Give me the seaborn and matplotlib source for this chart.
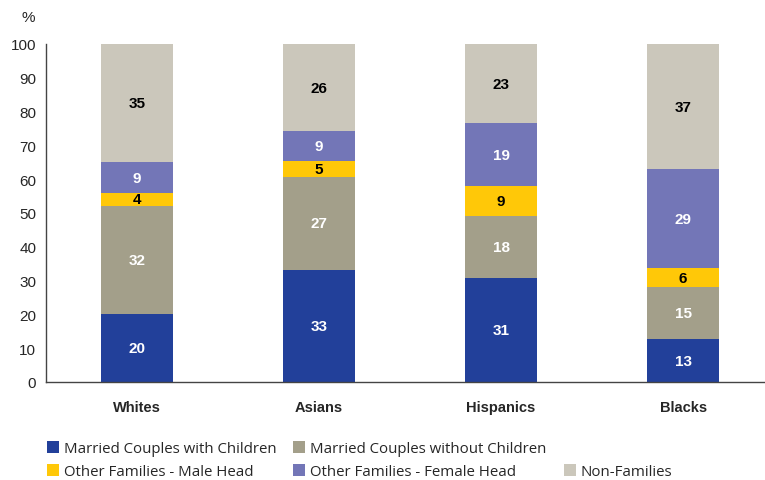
import matplotlib
matplotlib.use("Agg")
import matplotlib.pyplot as plt
import seaborn as sns
import numpy as np
from matplotlib.patches import Patch

# Household composition by group (%)
groups = ["Whites", "Asians", "Hispanics", "Blacks"]
married_with_children = [20.1, 33.2, 30.9, 12.7]
married_without_children = [32.1, 27.4, 18.2, 15.4]
other_male_head = [3.6, 4.7, 8.9, 5.6]
other_female_head = [9.2, 8.9, 18.6, 29.3]
non_families = [35.0, 25.8, 23.4, 37.0]

series_names = ["Married Couples with Children", "Married Couples without Children",
                "Other Families - Male Head", "Other Families - Female Head", "Non-Families"]
series_values = [married_with_children, married_without_children,
                 other_male_head, other_female_head, non_families]
colors = ["#22409A", "#A39F8A", "#FFC808", "#7376B7", "#CBC7BB"]
text_colors = ["white", "white", "black", "white", "black"]

sns.set_style("white")
plt.rcParams["font.family"] = ["Liberation Sans", "DejaVu Sans"]

fig = plt.figure(figsize=(7.65, 4.81), dpi=100)
ax = fig.add_axes([46 / 765, 98 / 481, 1 - 46 / 765, 338 / 481])

vals = np.array(series_values)
cum = np.cumsum(vals, axis=0)

# draw cumulative totals from the top layer down so shorter ones sit on top
for i in range(len(series_names) - 1, -1, -1):
    sns.barplot(x=groups, y=cum[i], color=colors[i], saturation=1, width=0.4,
                linewidth=0, edgecolor="none", ax=ax)

# value labels in the middle of each segment
for i in range(len(series_names)):
    for j in range(len(groups)):
        bottom = cum[i][j] - vals[i][j]
        ax.text(j, bottom + vals[i][j] / 2, f"{vals[i][j]:.0f}", ha="center", va="center",
                color=text_colors[i], fontsize=11, fontweight="bold")

ax.set_ylim(0, 100)
ax.set_xlim(-0.5, 3.45)
ax.set_yticks(range(0, 101, 10))
ax.set_xticks(range(len(groups)))
ax.set_xticklabels(groups, fontweight="bold", fontsize=10.5)
ax.set_xticks([-0.5, 0.5, 1.5, 2.5], minor=True)
ax.tick_params(axis="x", which="major", length=0, pad=13)
ax.tick_params(axis="x", which="minor", length=5, width=1, color="#444444", direction="out")
ax.tick_params(axis="y", length=4, width=1, color="#444444", direction="out", labelsize=11, pad=3)
ax.set_xlabel("")
ax.set_ylabel("")

for s in ["top", "right"]:
    ax.spines[s].set_visible(False)
for s in ["left", "bottom"]:
    ax.spines[s].set_color("#444444")
    ax.spines[s].set_linewidth(1)

fig.text(28 / 765, 1 - 18 / 481, "%", ha="center", va="center", fontsize=11)

# legend laid out column by column, blank slot keeps Non-Families on row two
order = [0, 2, 1, 3, None, 4]
handles, labels = [], []
for k in order:
    if k is None:
        handles.append(Patch(facecolor="none", edgecolor="none"))
        labels.append("")
    else:
        handles.append(Patch(facecolor=colors[k], edgecolor="none"))
        labels.append(series_names[k])
fig.legend(handles, labels, ncol=3, loc="upper left", bbox_to_anchor=(41 / 765, 1 - 436 / 481),
           borderaxespad=0, frameon=False, handlelength=0.8, handleheight=0.8, handletextpad=0.3,
           columnspacing=1.15, labelspacing=0.55, prop={"family": "Open Sans", "size": 10.8})

fig.savefig("out.png", dpi=100)
